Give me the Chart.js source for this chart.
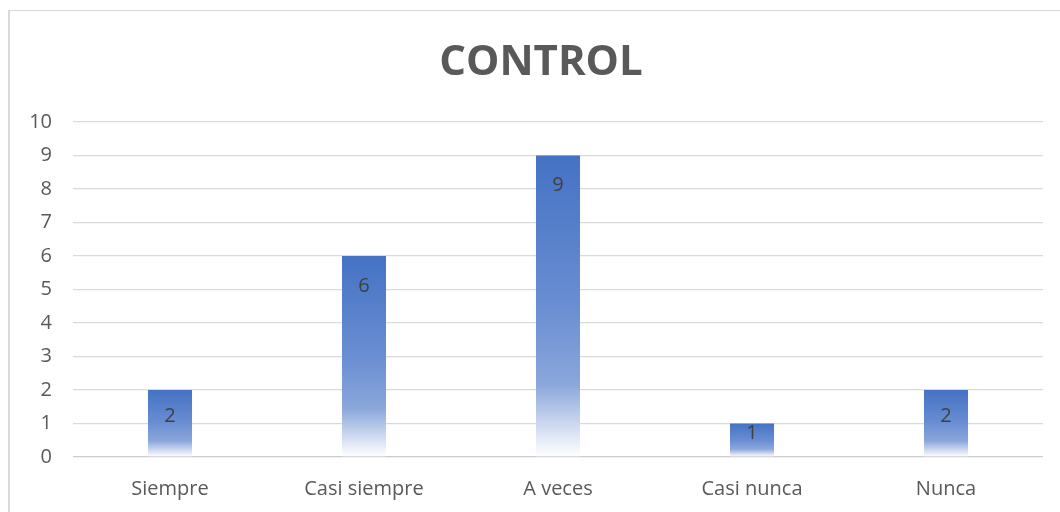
<!DOCTYPE html>
<html>
<head>
<meta charset="utf-8">
<script src="https://cdn.jsdelivr.net/npm/chart.js@4.4.0/dist/chart.umd.min.js"></script>
<style>
  html, body { margin: 0; padding: 0; background: #ffffff; }
  #wrap { position: relative; width: 1060px; height: 512px; overflow: hidden; }
  #frame { position: absolute; left: 8px; top: 10px; width: 1100px; height: 600px;
           border-left: 2px solid #d9d9d9; border-top: 1px solid #d9d9d9; box-sizing: border-box; }
  canvas { position: absolute; left: 0; top: 0; }
</style>
</head>
<body>
<div id="wrap">
  <div id="frame"></div>
  <canvas id="c" width="1082" height="512"></canvas>
</div>
<script>
// Chart content
const chartTitle = 'CONTROL';
const categories = ['Siempre', 'Casi siempre', 'A veces', 'Casi nunca', 'Nunca'];
const counts = [2, 6, 9, 1, 2];
const yMin = 0;
const yMax = 10;
const yStep = 1;

const FONT = "'Open Sans', 'Noto Sans', sans-serif";

// Vertical blue-to-white fill, computed per bar from its own top and base
function barGradient(ctx) {
  const chart = ctx.chart;
  const y = chart.scales.y;
  if (!y || ctx.dataIndex === undefined) return '#4472c4';
  const v = ctx.dataset.data[ctx.dataIndex];
  const top = y.getPixelForValue(v);
  const bot = y.getPixelForValue(0);
  if (!isFinite(top) || !isFinite(bot) || bot - top < 1) return '#4472c4';
  const g = chart.ctx.createLinearGradient(0, top, 0, bot);
  g.addColorStop(0, '#4472c4');
  g.addColorStop(0.5, '#6a8ed2');
  g.addColorStop(0.76, '#8ba7db');
  g.addColorStop(0.97, '#f2f5fb');
  g.addColorStop(1, '#ffffff');
  return g;
}

// Value labels placed inside the top end of each bar
const valueLabels = {
  id: 'valueLabels',
  afterDatasetsDraw(chart) {
    const c = chart.ctx;
    const meta = chart.getDatasetMeta(0);
    c.save();
    c.font = '20px ' + FONT;
    c.fillStyle = '#404040';
    c.textAlign = 'center';
    c.textBaseline = 'middle';
    meta.data.forEach((el, i) => {
      const h = el.base - el.y;
      const cy = el.y + Math.min(30, h / 2 - 7);
      c.fillText(String(chart.data.datasets[0].data[i]), el.x, cy);
    });
    c.restore();
  }
};

new Chart(document.getElementById('c'), {
  type: 'bar',
  data: {
    labels: categories,
    datasets: [{
      data: counts,
      backgroundColor: barGradient,
      borderWidth: 0,
      categoryPercentage: 1,
      barPercentage: 0.227
    }]
  },
  options: {
    responsive: false,
    animation: false,
    devicePixelRatio: 1,
    layout: { padding: 0 },
    plugins: {
      legend: { display: false },
      tooltip: { enabled: false },
      title: {
        display: true,
        text: chartTitle,
        color: '#595959',
        font: { family: FONT, size: 42, weight: 'bold', lineHeight: 1.2 },
        padding: { top: 38, bottom: 33.6 }
      }
    },
    scales: {
      x: {
        grid: { display: false, drawTicks: false },
        border: { display: false },
        ticks: { color: '#595959', font: { family: FONT, size: 20 }, padding: 20, maxRotation: 0 },
        afterFit(s) { s.height = 55; }
      },
      y: {
        min: yMin,
        max: yMax,
        grid: {
          drawTicks: false,
          color: (ctx) => ctx.tick && ctx.tick.value === 0 ? '#cccccc' : '#dadada',
          lineWidth: 1.3
        },
        border: { display: false },
        ticks: { stepSize: yStep, color: '#595959', font: { family: FONT, size: 20 }, padding: 21 },
        afterFit(s) { s.width = 73; }
      },
      // empty right-hand margin so the plot ends where the frame's inner area does
      yRight: {
        position: 'right',
        min: yMin,
        max: yMax,
        grid: { display: false, drawTicks: false },
        border: { display: false },
        ticks: { display: false },
        afterFit(s) { s.width = 39; }
      }
    }
  },
  plugins: [valueLabels]
});
</script>
</body>
</html>
